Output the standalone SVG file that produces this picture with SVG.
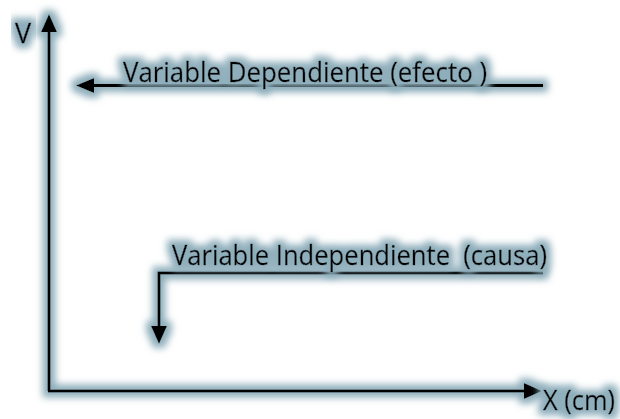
<svg xmlns="http://www.w3.org/2000/svg" width="620" height="419" viewBox="0 0 620 419">
<defs>
<filter id="glow" x="-20%" y="-60%" width="140%" height="220%">
<feMorphology in="SourceAlpha" operator="dilate" radius="5" result="d"/>
<feGaussianBlur in="d" stdDeviation="3.5" result="b"/>
<feFlood flood-color="#8eaebb" flood-opacity="1"/>
<feComposite in2="b" operator="in" result="g"/>
<feMerge><feMergeNode in="g"/><feMergeNode in="SourceGraphic"/></feMerge>
</filter>
</defs>
<style>
.ln{fill:none;stroke:#000;stroke-width:3}
.lbl{font-family:"Open Sans","Liberation Sans",sans-serif;font-size:27px;fill:#000;stroke:#000;stroke-width:0.4;white-space:pre}
</style>
<rect width="620" height="419" fill="#fff"/>
<g id="connectors" filter="url(#glow)">
<path class="ln" d="M49,391 V28"/>
<path d="M49,14 L41,32 L57,32 Z" fill="#000"/>
<path class="ln" d="M48,391 H526"/>
<path d="M542,391 L524,383 L524,399 Z" fill="#000"/>
<path class="ln" stroke-width="2.5" d="M543,85.5 H90"/>
<path d="M76,85.5 L94,78 L94,93 Z" fill="#000"/>
<path class="ln" stroke-width="2.2" d="M543,273 H159 V330"/>
<path d="M159,344 L151,326 L167,326 Z" fill="#000"/>
</g>
<g id="label-v" filter="url(#glow)"><text class="lbl" x="15" y="43">V</text></g>
<g id="label-dep" filter="url(#glow)"><text class="lbl" x="123" y="82" textLength="364" lengthAdjust="spacingAndGlyphs">Variable Dependiente (efecto )</text></g>
<g id="label-indep" filter="url(#glow)"><text class="lbl" x="172" y="265" textLength="375" lengthAdjust="spacingAndGlyphs" xml:space="preserve">Variable Independiente  (causa)</text></g>
<g id="label-x" filter="url(#glow)"><text class="lbl" x="543" y="410" font-size="25" textLength="72" lengthAdjust="spacingAndGlyphs">X (cm)</text></g>
</svg>
